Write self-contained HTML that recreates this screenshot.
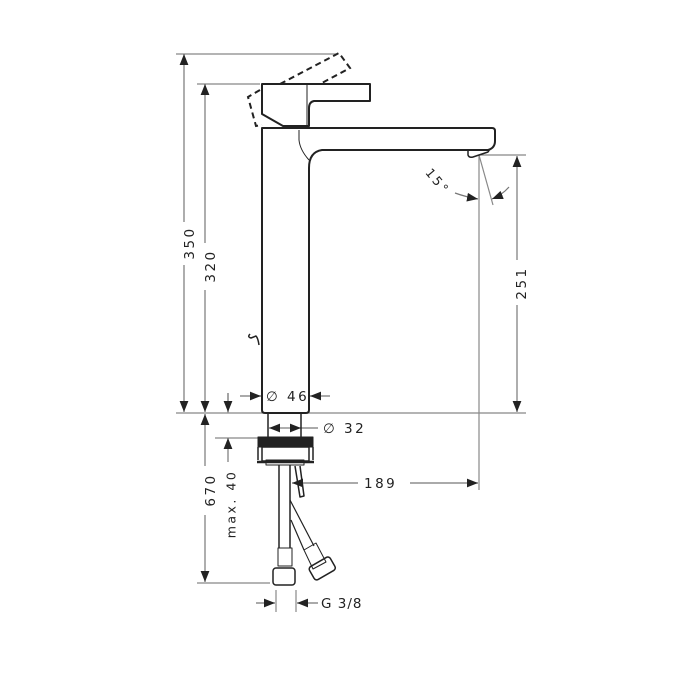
<!DOCTYPE html>
<html><head><meta charset="utf-8"><style>
html,body{margin:0;padding:0;background:#fff;}
svg{display:block;}
text{font-family:"DejaVu Sans","Liberation Sans",sans-serif;font-size:13.5px;fill:#222;letter-spacing:2.5px;}
</style></head><body>
<svg width="680" height="679" viewBox="0 0 680 679" xmlns="http://www.w3.org/2000/svg">
<defs>
<marker id="a" viewBox="0 0 10 10" refX="10" refY="5" markerWidth="11" markerHeight="11" orient="auto-start-reverse" markerUnits="userSpaceOnUse"><path d="M0,1 L10,5 L0,9 z" fill="#222"/></marker>
</defs>
<g stroke="#888" stroke-width="1.2" fill="none">
<line x1="176" y1="54" x2="336" y2="54"/>
<line x1="197" y1="84" x2="260" y2="84"/>
<line x1="176" y1="413" x2="526" y2="413"/>
<line x1="480" y1="155" x2="526" y2="155"/>
<line x1="479" y1="155" x2="479" y2="490"/>
<line x1="479" y1="155" x2="493" y2="205"/>
<line x1="215" y1="438" x2="258" y2="438"/>
<line x1="197" y1="583" x2="270" y2="583"/>
<line x1="276" y1="590" x2="276" y2="612"/>
<line x1="296" y1="590" x2="296" y2="612"/>
<line x1="228" y1="393" x2="228" y2="413"/>
</g>
<g stroke="#777" stroke-width="1.2" fill="none">
<line x1="184" y1="54" x2="184" y2="222" marker-start="url(#a)"/>
<line x1="184" y1="265" x2="184" y2="412" marker-end="url(#a)"/>
<line x1="205" y1="84" x2="205" y2="243" marker-start="url(#a)"/>
<line x1="205" y1="290" x2="205" y2="412" marker-end="url(#a)"/>
<line x1="205" y1="414" x2="205" y2="466" marker-start="url(#a)"/>
<line x1="205" y1="515" x2="205" y2="582" marker-end="url(#a)"/>
<line x1="228" y1="393" x2="228" y2="412" marker-end="url(#a)"/>
<line x1="228" y1="438" x2="228" y2="462" marker-start="url(#a)"/>
<line x1="517" y1="156" x2="517" y2="260" marker-start="url(#a)"/>
<line x1="517" y1="305" x2="517" y2="412" marker-end="url(#a)"/>
<line x1="240" y1="396" x2="261" y2="396" marker-end="url(#a)"/>
<line x1="330" y1="396" x2="310" y2="396" marker-end="url(#a)"/>
<line x1="285" y1="428" x2="269" y2="428" marker-end="url(#a)"/>
<line x1="285" y1="428" x2="301" y2="428" marker-end="url(#a)"/>
<line x1="301" y1="428" x2="318" y2="428"/>
<line x1="358" y1="483" x2="310" y2="483"/>
<line x1="320" y1="483" x2="292" y2="483" marker-end="url(#a)"/>
<line x1="410" y1="483" x2="478" y2="483" marker-end="url(#a)"/>
<line x1="256" y1="603" x2="275" y2="603" marker-end="url(#a)"/>
<line x1="318" y1="603" x2="297" y2="603" marker-end="url(#a)"/>
<path d="M455,193 Q466,197 478,199" marker-end="url(#a)"/>
<path d="M509,187 Q502,195 492,199" marker-end="url(#a)"/>
</g>
<g stroke="#222" stroke-width="2" fill="none" stroke-linejoin="round">
<path d="M262,128 L262,410 Q262,413 265,413 L306,413 Q309,413 309,410 L309,168 Q309,152 322,150 L488,150 Q495,148 495,141 L495,131 Q495,128 492,128 Z"/>
<path d="M262,84 L370,84 L370,101 L314,101 Q309,102 309,108 L309,126 L283,126 L262,114 Z"/>
<line x1="307" y1="84" x2="307" y2="126" stroke-width="1"/>
<path d="M468,150 L468,155 Q469,158 473,157 L488,152 L490,149" stroke-width="1.5"/>
<path d="M299,130 L299,140 Q300,150 309,160" stroke-width="1"/>
<path d="M250,334 Q247,337 251,338 L256,336 Q258,338 259,345" stroke-width="1.5"/>
<path d="M268,413 L268,437 M301,413 L301,437" stroke-width="1.5"/>
<rect x="258" y="437" width="55" height="10" fill="#222" stroke-width="1"/>
<rect x="262" y="447" width="47" height="14" stroke-width="1.5"/>
<path d="M258,447 L258,460 M313,447 L313,460" stroke-width="1.5"/>
<path d="M257,462 L314,462" stroke-width="2.5"/>
<rect x="266" y="460" width="38" height="5" stroke-width="1"/>
<path d="M279,465 L279,548 M290,465 L290,548" stroke-width="1.5"/>
<rect x="278" y="548" width="14" height="18" stroke-width="1"/>
<rect x="273" y="568" width="22" height="17" rx="3" stroke-width="1.5"/>
<path d="M290,500 L314,546 M291,520 L304,550" stroke-width="1.2"/>
<path d="M304,550 L316,543 L326,562 L313,569 Z" stroke-width="1"/>
<rect x="310" y="561" width="24" height="15" rx="3" transform="rotate(-30 322 568)" stroke-width="1.5"/>
<path d="M295,466 L300,497 L304,496 L300,466" stroke-width="1.5"/>
</g>
<g stroke="#222" stroke-width="2" fill="none" stroke-dasharray="6,4">
<path d="M280,84 L339,53 L350,68 L320,84"/>
<path d="M260,90 L248,97 L256,126 L262,125"/>
</g>
<text transform="translate(190,243) rotate(-90)" text-anchor="middle" dominant-baseline="middle">350</text>
<text transform="translate(211,266) rotate(-90)" text-anchor="middle" dominant-baseline="middle">320</text>
<text transform="translate(211,490) rotate(-90)" text-anchor="middle" dominant-baseline="middle">670</text>
<text transform="translate(232,504) rotate(-90)" text-anchor="middle" dominant-baseline="middle" style="font-size:12.5px">max. 40</text>
<text transform="translate(522,283) rotate(-90)" text-anchor="middle" dominant-baseline="middle">251</text>
<text x="266" y="401">∅ 46</text>
<text x="323" y="433">∅ 32</text>
<text x="364" y="488">189</text>
<text x="321" y="608" style="letter-spacing:1px">G 3/8</text>
<text transform="translate(437,182) rotate(50)" text-anchor="middle" dominant-baseline="middle" style="font-size:12.5px">15°</text>
</svg>
</body></html>
